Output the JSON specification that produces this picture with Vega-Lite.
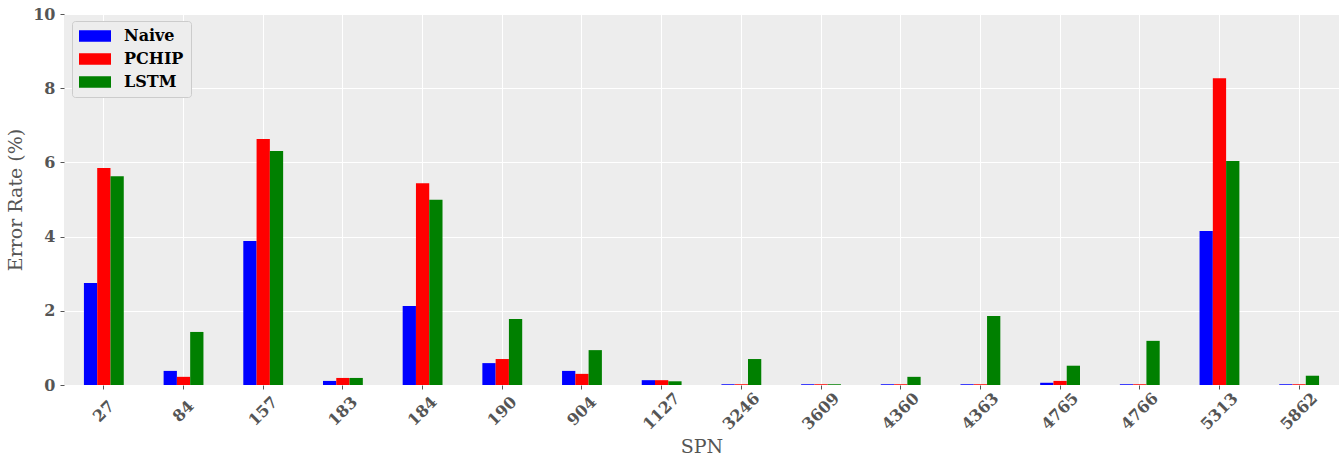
{
  "$schema": "https://vega.github.io/schema/vega-lite/v6.json",
  "width": 1275,
  "height": 371,
  "autosize": {"type": "none"},
  "padding": {"left": 64, "top": 14, "right": 0, "bottom": 75},
  "background": "white",
  "config": {
    "view": {"stroke": null, "fill": "#EDEDED"},
    "font": "DejaVu Serif"
  },
  "data": {
    "values": [
      {"SPN": "27", "method": "Naive", "rate": 2.75},
      {"SPN": "27", "method": "PCHIP", "rate": 5.85},
      {"SPN": "27", "method": "LSTM", "rate": 5.63},
      {"SPN": "84", "method": "Naive", "rate": 0.38},
      {"SPN": "84", "method": "PCHIP", "rate": 0.22},
      {"SPN": "84", "method": "LSTM", "rate": 1.43},
      {"SPN": "157", "method": "Naive", "rate": 3.88},
      {"SPN": "157", "method": "PCHIP", "rate": 6.63},
      {"SPN": "157", "method": "LSTM", "rate": 6.31},
      {"SPN": "183", "method": "Naive", "rate": 0.11},
      {"SPN": "183", "method": "PCHIP", "rate": 0.19},
      {"SPN": "183", "method": "LSTM", "rate": 0.19},
      {"SPN": "184", "method": "Naive", "rate": 2.13},
      {"SPN": "184", "method": "PCHIP", "rate": 5.44},
      {"SPN": "184", "method": "LSTM", "rate": 4.99},
      {"SPN": "190", "method": "Naive", "rate": 0.59},
      {"SPN": "190", "method": "PCHIP", "rate": 0.7},
      {"SPN": "190", "method": "LSTM", "rate": 1.78},
      {"SPN": "904", "method": "Naive", "rate": 0.38},
      {"SPN": "904", "method": "PCHIP", "rate": 0.3},
      {"SPN": "904", "method": "LSTM", "rate": 0.94},
      {"SPN": "1127", "method": "Naive", "rate": 0.13},
      {"SPN": "1127", "method": "PCHIP", "rate": 0.13},
      {"SPN": "1127", "method": "LSTM", "rate": 0.1},
      {"SPN": "3246", "method": "Naive", "rate": 0.02},
      {"SPN": "3246", "method": "PCHIP", "rate": 0.02},
      {"SPN": "3246", "method": "LSTM", "rate": 0.7},
      {"SPN": "3609", "method": "Naive", "rate": 0.02},
      {"SPN": "3609", "method": "PCHIP", "rate": 0.02},
      {"SPN": "3609", "method": "LSTM", "rate": 0.02},
      {"SPN": "4360", "method": "Naive", "rate": 0.02},
      {"SPN": "4360", "method": "PCHIP", "rate": 0.02},
      {"SPN": "4360", "method": "LSTM", "rate": 0.22},
      {"SPN": "4363", "method": "Naive", "rate": 0.02},
      {"SPN": "4363", "method": "PCHIP", "rate": 0.02},
      {"SPN": "4363", "method": "LSTM", "rate": 1.86},
      {"SPN": "4765", "method": "Naive", "rate": 0.06},
      {"SPN": "4765", "method": "PCHIP", "rate": 0.11},
      {"SPN": "4765", "method": "LSTM", "rate": 0.52},
      {"SPN": "4766", "method": "Naive", "rate": 0.02},
      {"SPN": "4766", "method": "PCHIP", "rate": 0.02},
      {"SPN": "4766", "method": "LSTM", "rate": 1.19},
      {"SPN": "5313", "method": "Naive", "rate": 4.15},
      {"SPN": "5313", "method": "PCHIP", "rate": 8.27},
      {"SPN": "5313", "method": "LSTM", "rate": 6.04},
      {"SPN": "5862", "method": "Naive", "rate": 0.02},
      {"SPN": "5862", "method": "PCHIP", "rate": 0.02},
      {"SPN": "5862", "method": "LSTM", "rate": 0.25}
    ]
  },
  "mark": {"type": "bar", "cornerRadius": 0},
  "encoding": {
    "x": {
      "field": "SPN",
      "type": "nominal",
      "sort": null,
      "scale": {"paddingInner": 0.5, "paddingOuter": 0.25},
      "axis": {
        "title": "SPN",
        "titleFont": "DejaVu Serif",
        "titleFontWeight": "normal",
        "titleFontSize": 19,
        "titleColor": "#555555",
        "titlePadding": 5,
        "labelAngle": -45,
        "labelAlign": "center",
        "labelBaseline": "middle",
        "labelFont": "DejaVu Serif",
        "labelFontWeight": "bold",
        "labelFontSize": 16,
        "labelColor": "#555555",
        "labelPadding": 22,
        "tickSize": 4,
        "tickColor": "#555555",
        "tickWidth": 1,
        "bandPosition": 0.5,
        "grid": true,
        "gridColor": "white",
        "gridWidth": 1,
        "domain": false
      }
    },
    "xOffset": {
      "field": "method",
      "type": "nominal",
      "sort": ["Naive", "PCHIP", "LSTM"],
      "scale": {"paddingInner": 0, "paddingOuter": 0}
    },
    "y": {
      "field": "rate",
      "type": "quantitative",
      "scale": {"domain": [0, 10], "nice": false},
      "axis": {
        "title": "Error Rate (%)",
        "titleFont": "DejaVu Serif",
        "titleFontWeight": "normal",
        "titleFontSize": 19,
        "titleColor": "#555555",
        "titlePadding": 7,
        "values": [0, 2, 4, 6, 8, 10],
        "labelFont": "DejaVu Serif",
        "labelFontWeight": "bold",
        "labelFontSize": 16,
        "labelColor": "#555555",
        "labelPadding": 5,
        "tickSize": 4,
        "tickColor": "#555555",
        "grid": true,
        "gridColor": "white",
        "gridWidth": 1,
        "domain": false
      }
    },
    "color": {
      "field": "method",
      "type": "nominal",
      "sort": ["Naive", "PCHIP", "LSTM"],
      "scale": {"domain": ["Naive", "PCHIP", "LSTM"], "range": ["#0000FF", "#FF0000", "#008000"]},
      "legend": {
        "title": null,
        "orient": "none",
        "legendX": 8,
        "legendY": 7,
        "fillColor": "#EDEDED",
        "strokeColor": "#CCCCCC",
        "cornerRadius": 3,
        "padding": 7,
        "symbolType": "M-2,-0.72H2V0.72H-2Z",
        "symbolSize": 256,
        "symbolOffset": 8,
        "symbolStrokeWidth": 0,
        "symbolOpacity": 1,
        "labelFont": "DejaVu Serif",
        "labelFontWeight": "bold",
        "labelFontSize": 16,
        "labelColor": "black",
        "labelOffset": 21,
        "rowPadding": 7
      }
    }
  }
}
